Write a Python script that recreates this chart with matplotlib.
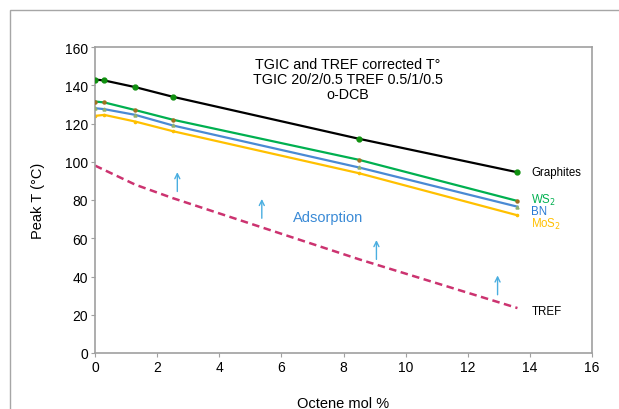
import matplotlib
matplotlib.use('Agg')
import matplotlib.pyplot as plt
from matplotlib.patches import Rectangle

# octene content (mol %) of the samples
octene = [0, 0.3, 1.3, 2.5, 8.5, 13.6]
graphites = [143, 142.5, 139, 134, 112, 94.5]
ws2 = [131.5, 131, 127, 122, 101, 79.5]
bn = [128, 127.5, 124.5, 119, 97, 76.5]
mos2 = [124, 124.5, 121, 116, 94, 72]

tref_x = [0, 1.3, 2.5, 8.5, 13.6]
tref = [98, 88, 81, 49, 23.5]

# adsorption arrows (x, y start, y end)
arrow_x = [2.65, 5.37, 9.06, 12.96]
arrow_y0 = [83, 69, 47.5, 29]
arrow_y1 = [96, 82, 60.5, 42]

xticks = [0, 2, 4, 6, 8, 10, 12, 14, 16]
yticks = [0, 20, 40, 60, 80, 100, 120, 140, 160]

plt.rcParams['font.family'] = ['Liberation Sans', 'DejaVu Sans']

fig = plt.figure(figsize=(6.19, 4.10), dpi=100)
fig.patches.append(Rectangle((10/619, -0.1), 1.2, (410-11)/410 + 0.1,
                             transform=fig.transFigure, fill=False,
                             edgecolor='#a6a6a6', linewidth=1.0))
ax = fig.add_axes([95/619, (410-354)/410, (592-95)/619, (354-48)/410])

ax.plot(octene, graphites, color='black', lw=1.6, marker='o', ms=3.5,
        mfc='#109010', mec='#109010', zorder=5)
ax.plot(octene, ws2, color='#00b050', lw=1.6, marker='o', ms=2.2,
        mfc='#a07020', mec='#a07020', zorder=4)
ax.plot(octene, bn, color='#4a8ad4', lw=1.6, marker='^', ms=2.2,
        mfc='#90b070', mec='#90b070', zorder=3)
ax.plot(octene, mos2, color='#ffc000', lw=1.6, marker='o', ms=1.6,
        mfc='#ffc000', mec='#ffc000', zorder=2)
ax.plot(tref_x, tref, color='#cc3370', lw=1.8, ls=(0, (3, 1.8)), zorder=2)

for x, y0, y1 in zip(arrow_x, arrow_y0, arrow_y1):
    ax.annotate('', xy=(x, y1), xytext=(x, y0),
                arrowprops=dict(arrowstyle='->', color='#4aaee0', lw=1.0,
                                mutation_scale=9))

ax.text(7.5, 71, 'Adsorption', color='#3a8ad6', fontsize=10.5,
        ha='center', va='center')

ax.text(8.15, 155, 'TGIC and TREF corrected T°\nTGIC 20/2/0.5 TREF 0.5/1/0.5\no-DCB',
        ha='center', va='top', fontsize=10.3, linespacing=1.12)

ax.text(14.05, 94.5, 'Graphites', fontsize=8.3, va='center', color='black')
ax.text(14.05, 80.5, 'WS$_2$', fontsize=8.3, va='center', color='#00b050')
ax.text(14.05, 74, 'BN', fontsize=8.3, va='center', color='#2a7ad4')
ax.text(14.05, 67.5, 'MoS$_2$', fontsize=8.3, va='center', color='#ffc000')
ax.text(14.05, 22, 'TREF', fontsize=8.3, va='center', color='black')

ax.set_xlim(0, 16)
ax.set_ylim(0, 160)
ax.set_xticks(xticks)
ax.set_yticks(yticks)
ax.tick_params(direction='out', length=3, color='#a0a0a0', labelsize=10, pad=2)
for s in ax.spines.values():
    s.set_color('#a0a0a0')
    s.set_linewidth(1.2)

ax.set_xlabel('Octene mol %', fontsize=10.5, labelpad=16)
ax.set_ylabel('Peak T (°C)', fontsize=10.5, labelpad=14)

fig.savefig('out.png', dpi=100)
